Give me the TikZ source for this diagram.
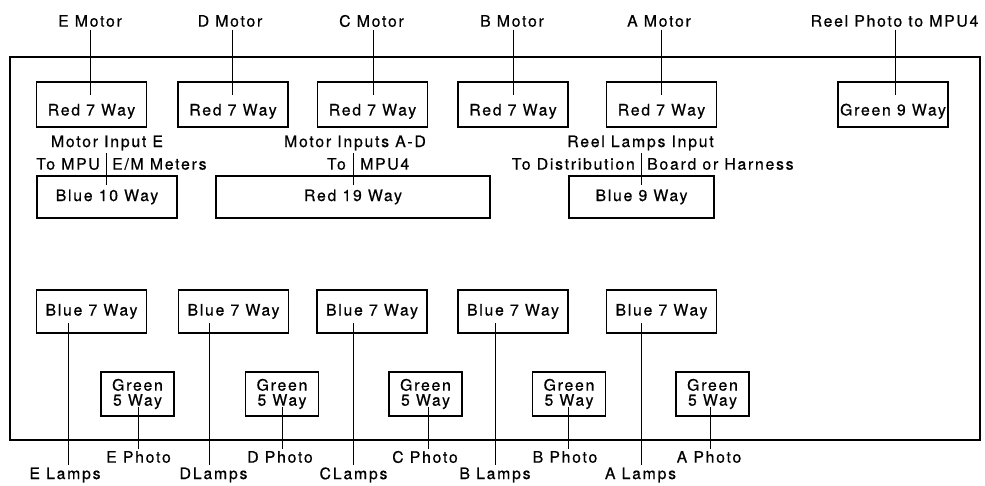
\documentclass[tikz,border=0pt]{standalone}
\usepackage{fontspec}
\setmainfont{TeX Gyre Heros}[LetterSpace=11,FakeBold=0.6]
\begin{document}
\begin{tikzpicture}[x=1pt,y=-1pt,
  every node/.style={font=\fontsize{15.8}{15}\selectfont, inner sep=0pt},
  box/.style={draw, line width=1.4pt, inner sep=0pt},
  topbox/.style={box, minimum width=110pt, text height=33.5pt, text depth=11.5pt},
  midbox/.style={box, minimum height=42pt},
  lowbox/.style={box, minimum width=110pt, minimum height=43pt},
  gbox/.style={box, minimum width=73pt, minimum height=44pt, align=center},
  lbl/.style={inner sep=2.5pt},
  wire/.style={line width=1pt},
  frame/.style={draw, line width=2.8pt, minimum width=970pt, minimum height=383pt}
]
\useasboundingbox (0,0) rectangle (985,486);
\node[frame] (fr) at (495,248.5) {};

% top row
\node[topbox] (rE) at (91.5,104.5) {Red 7 Way};
\node[topbox] (rD) at (233,104.5) {Red 7 Way};
\node[topbox] (rC) at (372.5,104.5) {Red 7 Way};
\node[topbox] (rB) at (513,104.5) {Red 7 Way};
\node[topbox] (rA) at (661.5,104.5) {Red 7 Way};
\node[topbox] (g9) at (893,104.5) {Green 9 Way};

\node[lbl] (mE) at (90,21) {E Motor};
\node[lbl] (mD) at (230,21) {D Motor};
\node[lbl] (mC) at (371.5,21) {C Motor};
\node[lbl] (mB) at (512,21) {B Motor};
\node[lbl] (mA) at (659,21) {A Motor};
\node[lbl] (mR) at (894.5,21) {Reel Photo to MPU4};

\coordinate (cmE) at (90,95);
\coordinate (cmD) at (232,95);
\coordinate (cmC) at (373,95);
\coordinate (cmB) at (513,95);
\coordinate (cmA) at (661,95);
\coordinate (cmR) at (895,95);
\foreach \n in {E,D,C,B,A,R} \draw[wire] (cm\n |- m\n.south) -- (cm\n);

% middle row
\node[midbox, minimum width=140pt] (b10) at (107,197) {Blue 10 Way};
\node[midbox, minimum width=274pt] (r19) at (353,197) {Red 19 Way};
\node[midbox, minimum width=145pt] (b9) at (641.5,197) {Blue 9 Way};

\node[lbl] (iE) at (107,143) {Motor Input E};
\node[anchor=east] (iE2a) at (100,164) {To MPU};
\node[anchor=west] (iE2b) at (112,164) {E/M Meters};
\node[lbl] (iM) at (355,143) {Motor Inputs A-D};
\node[anchor=east] (iM2a) at (346,164) {To};
\node[anchor=west] (iM2b) at (360,164) {MPU4};
\node[lbl] (iR) at (640.5,143) {Reel Lamps Input};
\node[anchor=east] (iR2a) at (635,164) {To Distribution};
\node[anchor=west] (iR2b) at (647,164) {Board or Harness};

\coordinate (ciE) at (106,185);
\coordinate (ciM) at (353,185);
\coordinate (ciR) at (641,185);
\draw[wire] (ciE |- iE.south) -- (ciE);
\draw[wire] (ciM |- iM.south) -- (ciM);
\draw[wire] (ciR |- iR.south) -- (ciR);

% lower row
\node[lowbox] (lE) at (91.5,311.5) {Blue 7 Way};
\node[lowbox] (lD) at (233.5,311.5) {Blue 7 Way};
\node[lowbox] (lC) at (372,311.5) {Blue 7 Way};
\node[lowbox] (lB) at (513,311.5) {Blue 7 Way};
\node[lowbox] (lA) at (661.5,311.5) {Blue 7 Way};

\node[gbox] (gE) at (137.5,394) {Green\\5 Way};
\node[gbox] (gD) at (282,394) {Green\\5 Way};
\node[gbox] (gC) at (425.5,394) {Green\\5 Way};
\node[gbox] (gB) at (569,394) {Green\\5 Way};
\node[gbox] (gA) at (712.5,394) {Green\\5 Way};

\node[lbl] (tLE) at (65,475) {E Lamps};
\node[lbl] (tLD) at (213.5,475) {D\kern2pt Lamps};
\node[lbl] (tLC) at (353.5,475) {C\kern2pt Lamps};
\node[lbl] (tLB) at (495,475) {B Lamps};
\node[lbl] (tLA) at (640.5,475) {A Lamps};

\node[inner sep=1.5pt] (tPE) at (138.5,457) {E Photo};
\node[inner sep=1.5pt] (tPD) at (280,457) {D Photo};
\node[inner sep=1.5pt] (tPC) at (425,457) {C Photo};
\node[inner sep=1.5pt] (tPB) at (565,457) {B Photo};
\node[inner sep=1.5pt] (tPA) at (709,457) {A Photo};

\coordinate (clE) at (68,323);
\coordinate (clD) at (209,323);
\coordinate (clC) at (353,323);
\coordinate (clB) at (495,323);
\coordinate (clA) at (641,323);
\foreach \n in {E,D,C,B,A} \draw[wire] (cl\n) -- (cl\n |- tL\n.north);

\coordinate (cpE) at (138,407);
\coordinate (cpD) at (282,407);
\coordinate (cpC) at (428,407);
\coordinate (cpB) at (568,407);
\coordinate (cpA) at (710,407);
\foreach \n in {E,D,C,B,A} \draw[wire] (cp\n) -- (cp\n |- tP\n.north);
\end{tikzpicture}
\end{document}
